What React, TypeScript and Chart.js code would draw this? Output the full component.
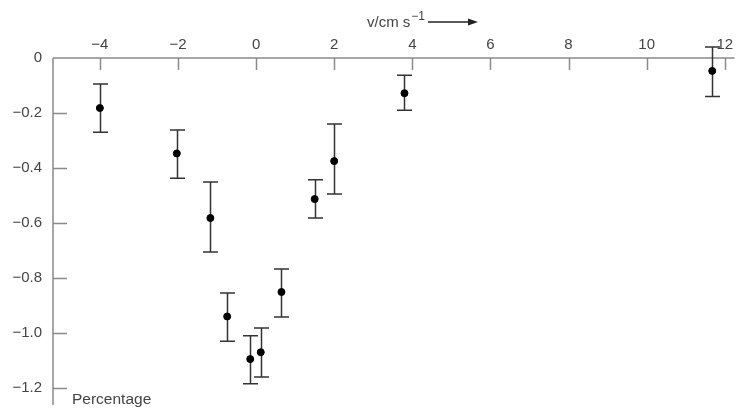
import React, { useEffect, useRef } from "react";
import { Chart, registerables } from "chart.js";

Chart.register(...registerables);

// Data
const xValues = [-4.0, -2.03, -1.17, -0.74, -0.15, 0.12, 0.65, 1.5, 2.0, 3.8, 11.68];
const yValues = [-0.182, -0.347, -0.582, -0.94, -1.095, -1.07, -0.851, -0.513, -0.375, -0.128, -0.047];
const errHigh = [-0.095, -0.262, -0.451, -0.855, -1.01, -0.982, -0.767, -0.443, -0.24, -0.063, 0.04];
const errLow = [-0.27, -0.437, -0.706, -1.03, -1.185, -1.16, -0.942, -0.582, -0.495, -0.19, -0.14];

const xTicks = [-4, -2, 0, 2, 4, 6, 8, 10, 12];
const yTicks = [0, -0.2, -0.4, -0.6, -0.8, -1.0, -1.2];

const xTitle = "v/cm s";
const xTitleSup = "\u22121";
const yTitle = "Percentage";

const FONT = "'Liberation Sans', Arial, sans-serif";
const AXIS_COLOR = "#8a8a8a";
const TEXT_COLOR = "#444";
const BAR_COLOR = "#333";

const fmtX = (v: number) => (v < 0 ? "\u2212" + Math.abs(v) : String(v));
const fmtY = (v: number) =>
  v === 0 ? "0" : (v < 0 ? "\u2212" : "") + Math.abs(v).toFixed(1);

const decorPlugin = {
  id: "decor",
  beforeDatasetsDraw(chart: any) {
    const { ctx, chartArea, scales } = chart;
    const xs = scales.x;
    const ys = scales.y;
    ctx.save();
    // axis lines
    ctx.strokeStyle = AXIS_COLOR;
    ctx.lineWidth = 1.5;
    ctx.beginPath();
    ctx.moveTo(chartArea.left, chartArea.top);
    ctx.lineTo(chartArea.right, chartArea.top);
    ctx.moveTo(chartArea.left, chartArea.top);
    ctx.lineTo(chartArea.left, chartArea.bottom);
    ctx.stroke();
    // tick marks (inside)
    ctx.beginPath();
    for (const t of xTicks) {
      const px = Math.round(xs.getPixelForValue(t)) + 0.5;
      ctx.moveTo(px, chartArea.top);
      ctx.lineTo(px, chartArea.top + 12);
    }
    for (const t of yTicks) {
      if (t === 0) continue;
      const py = Math.round(ys.getPixelForValue(t)) + 0.5;
      ctx.moveTo(chartArea.left, py);
      ctx.lineTo(chartArea.left + 14, py);
    }
    ctx.stroke();

    // error bars
    ctx.strokeStyle = BAR_COLOR;
    ctx.lineWidth = 1.5;
    ctx.beginPath();
    for (let i = 0; i < xValues.length; i++) {
      const px = Math.round(xs.getPixelForValue(xValues[i])) + 0.5;
      const pt = ys.getPixelForValue(errHigh[i]);
      const pb = ys.getPixelForValue(errLow[i]);
      ctx.moveTo(px, pt);
      ctx.lineTo(px, pb);
      ctx.moveTo(px - 7.5, pt);
      ctx.lineTo(px + 7.5, pt);
      ctx.moveTo(px - 7.5, pb);
      ctx.lineTo(px + 7.5, pb);
    }
    ctx.stroke();

    // titles
    ctx.fillStyle = TEXT_COLOR;
    ctx.font = "15px " + FONT;
    ctx.textBaseline = "alphabetic";
    ctx.textAlign = "left";
    const tx = 367;
    const ty = 27;
    ctx.fillText(xTitle, tx, ty);
    const w = ctx.measureText(xTitle).width;
    ctx.font = "12px " + FONT;
    ctx.fillText(xTitleSup, tx + w + 1, ty - 7);
    const w2 = ctx.measureText(xTitleSup).width;
    // arrow
    const ax0 = tx + w + w2 + 4;
    const ax1 = 478;
    const ay = 22;
    ctx.strokeStyle = "#222";
    ctx.lineWidth = 1.3;
    ctx.beginPath();
    ctx.moveTo(ax0, ay);
    ctx.lineTo(ax1 - 6, ay);
    ctx.stroke();
    ctx.fillStyle = "#222";
    ctx.beginPath();
    ctx.moveTo(ax1, ay);
    ctx.lineTo(ax1 - 10, ay - 3.5);
    ctx.lineTo(ax1 - 10, ay + 3.5);
    ctx.closePath();
    ctx.fill();

    ctx.fillStyle = TEXT_COLOR;
    ctx.font = "15.5px " + FONT;
    ctx.textBaseline = "middle";
    ctx.fillText(yTitle, chartArea.left + 19, 400);
    ctx.restore();
  },
};

export default function App() {
  const canvasRef = useRef<HTMLCanvasElement | null>(null);

  useEffect(() => {
    document.body.style.margin = "0";
    const canvas = canvasRef.current;
    if (!canvas) return;
    const chart = new Chart(canvas, {
      type: "scatter",
      data: {
        datasets: [
          {
            data: xValues.map((x, i) => ({ x, y: yValues[i] })),
            backgroundColor: "#000",
            borderColor: "#000",
            pointRadius: 3.5,
            pointHoverRadius: 3.5,
            clip: false,
          },
        ],
      },
      options: {
        responsive: false,
        animation: false,
        events: [],
        layout: { padding: { top: 0, left: 0, right: 0, bottom: 5 } },
        plugins: {
          legend: { display: false },
          tooltip: { enabled: false },
          title: { display: false },
        },
        scales: {
          x: {
            type: "linear",
            position: "top",
            min: -5.2,
            max: 12.25,
            grid: { display: false },
            border: { display: false },
            ticks: {
              color: TEXT_COLOR,
              font: { family: FONT, size: 15 },
              padding: -4,
              maxRotation: 0,
              callback: (v: any) => fmtX(Number(v)),
            },
            afterBuildTicks: (scale: any) => {
              scale.ticks = xTicks.map((v) => ({ value: v }));
            },
            afterFit: (scale: any) => {
              scale.height = 58;
              scale.paddingLeft = 0;
              scale.paddingRight = 0;
            },
          },
          y: {
            type: "linear",
            position: "left",
            min: -1.262,
            max: 0,
            grid: { display: false },
            border: { display: false },
            ticks: {
              color: TEXT_COLOR,
              font: { family: FONT, size: 15 },
              padding: 3,
              callback: (v: any) => fmtY(Number(v)),
            },
            afterBuildTicks: (scale: any) => {
              scale.ticks = yTicks.map((v) => ({ value: v }));
            },
            afterFit: (scale: any) => {
              scale.width = 53;
              scale.paddingTop = 0;
              scale.paddingBottom = 0;
            },
          },
        },
      },
      plugins: [decorPlugin],
    });
    return () => chart.destroy();
  }, []);

  return <canvas ref={canvasRef} width={739} height={410} style={{ display: "block" }} />;
}
